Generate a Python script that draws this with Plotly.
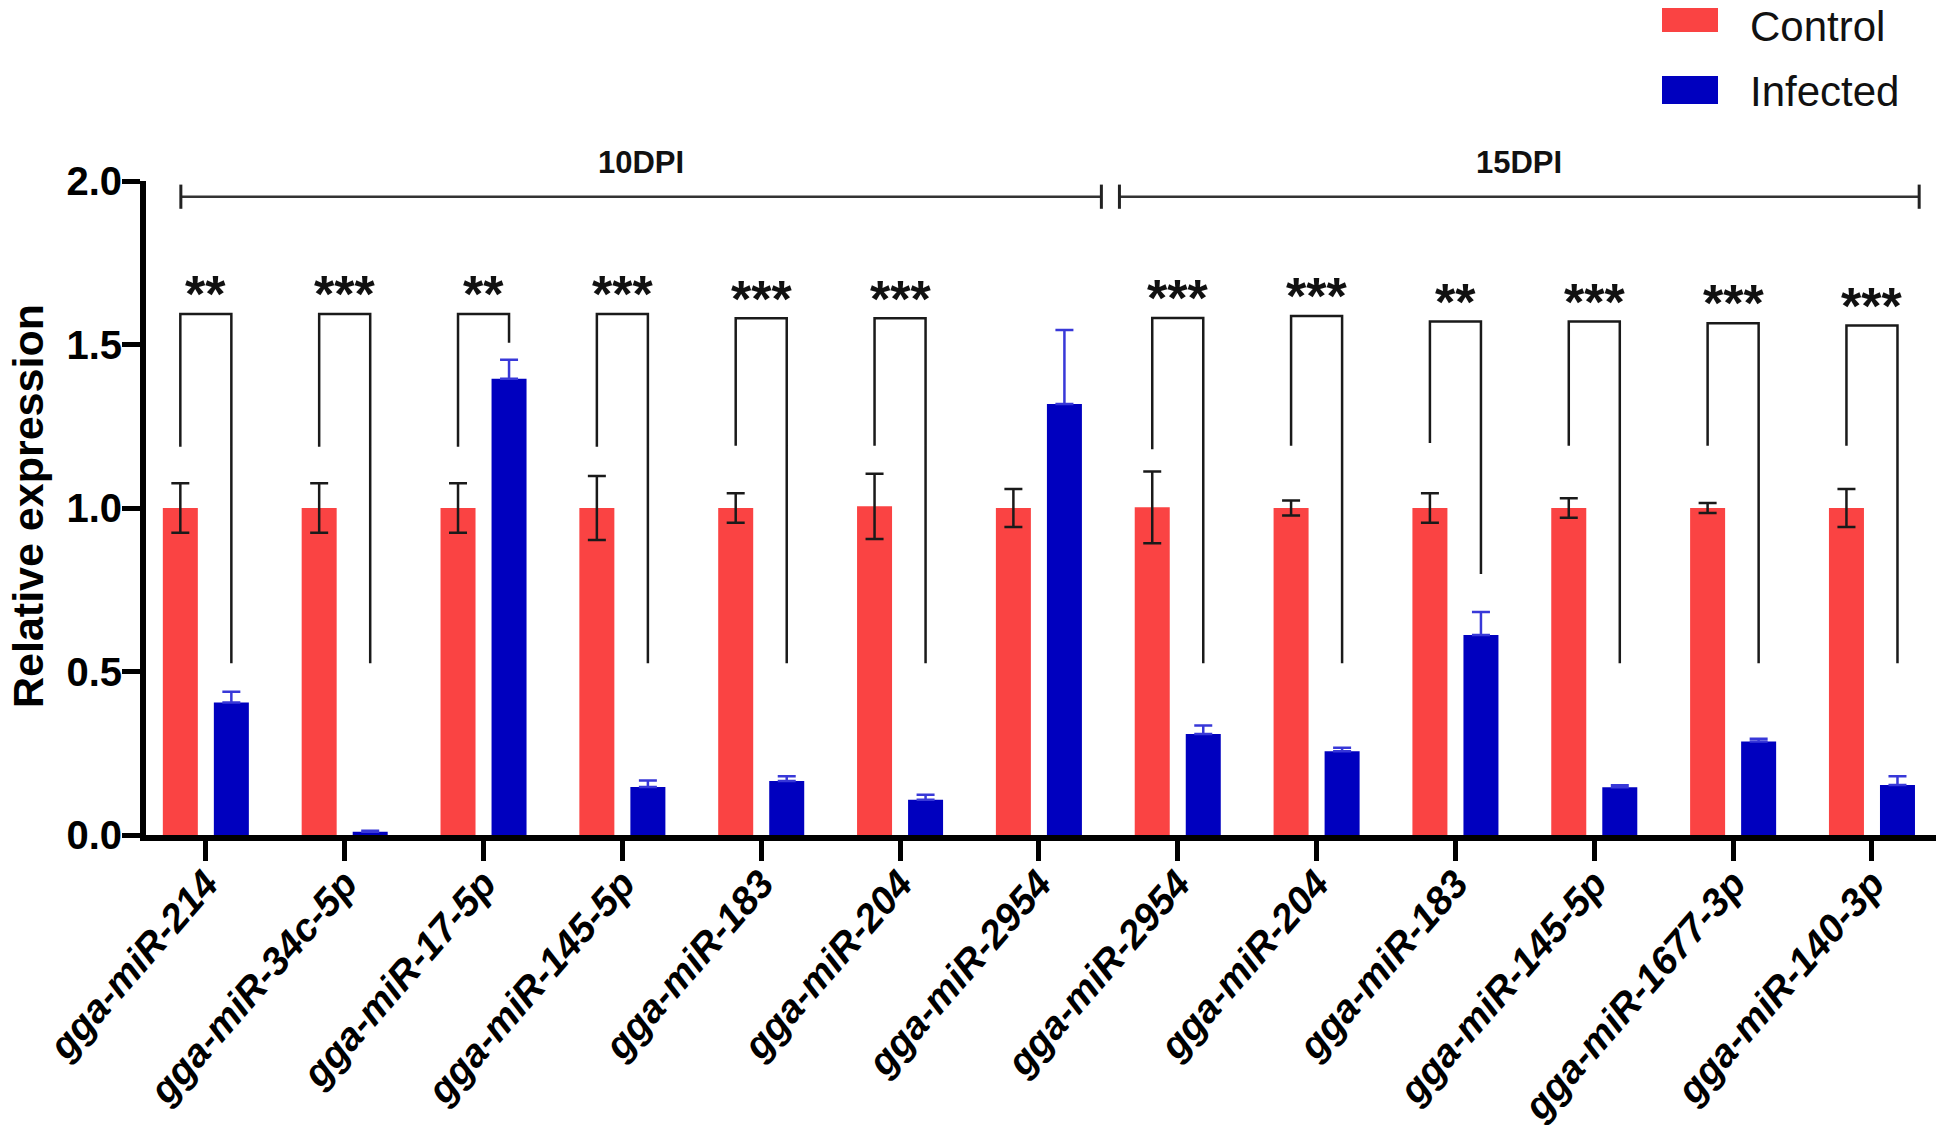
import plotly.graph_objects as go

# ---------------- data ----------------
categories = ["gga-miR-214", "gga-miR-34c-5p", "gga-miR-17-5p", "gga-miR-145-5p",
              "gga-miR-183", "gga-miR-204", "gga-miR-2954", "gga-miR-2954",
              "gga-miR-204", "gga-miR-183", "gga-miR-145-5p", "gga-miR-1677-3p",
              "gga-miR-140-3p"]
control = [1.0, 1.0, 1.0, 1.0, 1.0, 1.005, 1.0, 1.002, 1.0, 1.0, 1.0, 1.0, 1.0]
control_err = [0.076, 0.076, 0.076, 0.098, 0.045, 0.10, 0.058, 0.11, 0.023, 0.045, 0.03, 0.015, 0.058]
infected = [0.405, 0.01, 1.395, 0.147, 0.165, 0.108, 1.318, 0.309, 0.256, 0.612, 0.146, 0.286, 0.153]
infected_err = [0.033, 0.003, 0.058, 0.02, 0.015, 0.015, 0.226, 0.026, 0.011, 0.07, 0.006, 0.008, 0.027]

sig_labels = ["**", "***", "**", "***", "***", "***", "", "***", "***", "**", "***", "***", "***"]
bracket_top = [1.593, 1.593, 1.593, 1.593, 1.580, 1.580, None, 1.581, 1.587, 1.570, 1.570, 1.565, 1.558]
bracket_left_bottom = [1.187, 1.187, 1.187, 1.187, 1.19, 1.19, None, 1.18, 1.19, 1.199, 1.19, 1.19, 1.19]
bracket_right_bottom = [0.525, 0.525, 1.505, 0.525, 0.525, 0.525, None, 0.525, 0.525, 0.798, 0.525, 0.525, 0.525]

group_labels = ["10DPI", "15DPI"]
group_start = [-0.18, 6.58]
group_end = [6.45, 12.34]
group_line_y = 1.952

y_ticks = [0.0, 0.5, 1.0, 1.5, 2.0]
y_title = "Relative expression"

# ---------------- style ----------------
OFF = 8                      # default page (body) margin of the browser
W, H = 1944 - OFF, 1131 - OFF
ML, MR, MT, MB = 146 - OFF, 4, 181 - OFF, H - (835 - OFF)
RED = "#FA4343"
BLUE = "#0000BF"
FONT = "Arial, Liberation Sans, sans-serif"
BARGAP = 0.265
BARGROUPGAP = 0.314
half = (1 - BARGAP) / 4.0  # offset of each bar centre from the category centre

x = list(range(len(categories)))

fig = go.Figure()
fig.add_bar(x=x, y=control, name="Control", showlegend=False,
            marker=dict(color=RED, line=dict(width=0)),
            error_y=dict(type="data", array=control_err, color="#1a1a1a",
                         thickness=2.5, width=9))
fig.add_bar(x=x, y=infected, name="Infected", showlegend=False,
            marker=dict(color=BLUE, line=dict(width=0)),
            error_y=dict(type="data", symmetric=False, array=infected_err,
                         arrayminus=[0] * len(infected), color="#3838D8",
                         thickness=2.5, width=9))

pw = W - ML - MR
ph = H - MT - MB
def px_x(v):                 # page pixel -> paper x
    return (v - OFF - ML) / pw
def px_y(v):                 # page pixel -> paper y
    return (H - MB - (v - OFF)) / ph

shapes = []
annotations = []

# significance brackets
for i in x:
    if bracket_top[i] is None:
        continue
    xl, xr = i - half, i + half
    path = (f"M {xl},{bracket_left_bottom[i]} L {xl},{bracket_top[i]} "
            f"L {xr},{bracket_top[i]} L {xr},{bracket_right_bottom[i]}")
    shapes.append(dict(type="path", xref="x", yref="y", path=path,
                       line=dict(color="#1a1a1a", width=2.5)))
    annotations.append(dict(x=i, y=bracket_top[i] + 0.085, xref="x", yref="y",
                            text=sig_labels[i], showarrow=False, yanchor="middle",
                            yshift=-8,
                            font=dict(family=FONT, size=52, color="#111", weight="bold")))

# group (DPI) brackets
cap = 0.037
for lab, xs, xe in zip(group_labels, group_start, group_end):
    shapes.append(dict(type="line", xref="x", yref="y", x0=xs, x1=xe,
                       y0=group_line_y, y1=group_line_y,
                       line=dict(color="#333", width=2.5)))
    for xx in (xs, xe):
        shapes.append(dict(type="line", xref="x", yref="y", x0=xx, x1=xx,
                           y0=group_line_y - cap, y1=group_line_y + cap,
                           line=dict(color="#222", width=3)))
    annotations.append(dict(x=(xs + xe) / 2, y=px_y(163), xref="x", yref="paper",
                            text=lab, showarrow=False, yanchor="middle",
                            font=dict(family=FONT, size=31, color="#111", weight="bold")))

# y-axis title (rotated text)
annotations.append(dict(x=px_x(28), y=px_y(506), xref="paper", yref="paper",
                        text=y_title, textangle=-90, showarrow=False,
                        xanchor="center", yanchor="middle",
                        font=dict(family=FONT, size=43, color="black", weight="bold")))

# manual legend
legend_items = [("Control", RED, 18, 26), ("Infected", BLUE, 90, 92)]
for name, col, cy, ty in legend_items:
    shapes.append(dict(type="rect", xref="paper", yref="paper",
                       x0=px_x(1662), x1=px_x(1718), y0=px_y(cy - 14), y1=px_y(cy + 14),
                       fillcolor=col, line=dict(width=0)))
    annotations.append(dict(x=px_x(1748), y=px_y(ty), xref="paper", yref="paper",
                            text=name, showarrow=False, xanchor="left", yanchor="middle",
                            font=dict(family=FONT, size=42, color="#111")))

fig.update_layout(
    width=W, height=H,
    margin=dict(l=ML, r=MR, t=MT, b=MB, autoexpand=False),
    paper_bgcolor="white", plot_bgcolor="white",
    barmode="group", bargap=BARGAP, bargroupgap=BARGROUPGAP,
    shapes=shapes, annotations=annotations,
    showlegend=False,
)
fig.update_xaxes(
    type="linear", range=[-0.431, 12.49],
    tickmode="array", tickvals=x, ticktext=categories, tickangle=-49,
    showline=True, linecolor="black", linewidth=6,
    ticks="outside", ticklen=20, tickwidth=5, tickcolor="black",
    ticklabelstandoff=-16,
    showgrid=False, zeroline=False,
    tickfont=dict(family=FONT, size=39, color="black", weight="bold", style="italic"),
)
fig.update_yaxes(
    range=[0, 2.0], tickmode="array", tickvals=y_ticks,
    ticktext=[f"{v:.1f}" for v in y_ticks],
    showline=True, linecolor="black", linewidth=6,
    ticks="outside", ticklen=18, tickwidth=5, tickcolor="black",
    ticklabelstandoff=-8,
    showgrid=False, zeroline=False,
    tickfont=dict(family=FONT, size=40, color="black", weight="bold"),
)

fig.write_html("out.html")
